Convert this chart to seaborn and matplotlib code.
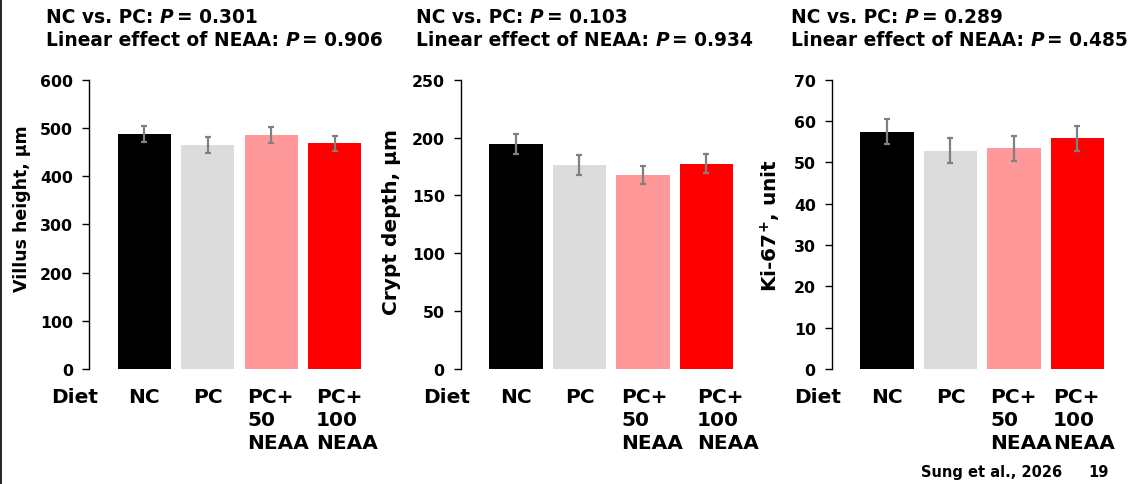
import matplotlib
matplotlib.use("Agg")
import matplotlib.pyplot as plt
from matplotlib.lines import Line2D
import seaborn as sns
import pandas as pd
import numpy as np

# ---------------- data ----------------
diets = ["NC", "PC", "PC+50 NEAA", "PC+100 NEAA"]
tick_labels = ["NC", "PC", "PC+\n50\nNEAA", "PC+\n100\nNEAA"]
bar_colors = ["#000000", "#DCDCDC", "#FF9999", "#FF0000"]

villus = [487, 465, 485, 468]
villus_se = [17, 16.5, 16.5, 16]
crypt = [194.5, 176.5, 167.5, 177.5]
crypt_se = [8.5, 8.5, 8, 8]
ki67 = [57.4, 52.8, 53.4, 55.8]
ki67_se = [3, 3, 3, 3]

p_nc_pc = ["0.301", "0.103", "0.289"]
p_linear = ["0.906", "0.934", "0.485"]
ylabels = ["Villus height, µm", "Crypt depth, µm", r"Ki-67$^{\mathbf{+}}$, unit"]
ymax = [600, 250, 70]
ystep = [100, 50, 10]

# ---------------- style ----------------
sns.set_style("white")
plt.rcParams["font.family"] = ["DejaVu Sans"]
plt.rcParams["font.weight"] = "bold"
plt.rcParams["mathtext.fontset"] = "dejavusans"
plt.rcParams["text.color"] = "black"
plt.rcParams["axes.labelcolor"] = "black"
plt.rcParams["xtick.color"] = "black"
plt.rcParams["ytick.color"] = "black"

W, H = 1136, 485
fig = plt.figure(figsize=(W / 100, H / 100), dpi=100)

axes_left_px = [89, 460.7, 831.7]
title_left_px = [46, 416, 791]
ylabel_x = [-0.205, -0.212, -0.172]
ylabel_y = [0.556, 0.512, 0.5]
ylabel_size = [12.5, 14.5, 14.5]
# horizontal nudge (px) of the multi-line labels from the bar's left edge
label_nudge_px = [[3, 8], [5, 17], [3, 2]]
top_px, bottom_px = 80.7, 370
xlim = (-0.87, 3.6)
pitch_px = 63.5
width_px = (xlim[1] - xlim[0]) * pitch_px

series = [(villus, villus_se), (crypt, crypt_se), (ki67, ki67_se)]


def rich_line(ax, x_px, y_px, pieces, size=13.4):
    first = ax.annotate(pieces[0][0], xy=(x_px / W, 1 - y_px / H),
                        xycoords="figure fraction", va="baseline", ha="left",
                        fontsize=size, fontweight="bold", fontstyle=pieces[0][1],
                        color="black", annotation_clip=False)
    prev = first
    for text, style, gap in pieces[1:]:
        prev = ax.annotate(text, xy=(1, 0), xycoords=prev, xytext=(gap, 0),
                           textcoords="offset points", va="bottom", ha="left",
                           fontsize=size, fontweight="bold", fontstyle=style,
                           color="black", annotation_clip=False)


for k, (vals, se) in enumerate(series):
    ax = fig.add_axes([axes_left_px[k] / W, 1 - bottom_px / H,
                       width_px / W, (bottom_px - top_px) / H])
    df = pd.DataFrame({"Diet": diets, "value": vals})
    sns.barplot(data=df, x="Diet", y="value", hue="Diet", order=diets,
                hue_order=diets, palette=bar_colors, dodge=False, width=0.84,
                saturation=1, legend=False, linewidth=0, errorbar=None, ax=ax)
    ax.errorbar(np.arange(len(diets)), vals, yerr=se, fmt="none",
                ecolor="#808080", elinewidth=1.6, capsize=2.5, capthick=1.6,
                zorder=3)
    ax.set_xlim(*xlim)
    ax.set_ylim(0, ymax[k])
    ax.set_yticks(np.arange(0, ymax[k] + 1, ystep[k]))
    for s in ["top", "right", "bottom"]:
        ax.spines[s].set_visible(False)
    ax.spines["left"].set_color("black")
    ax.spines["left"].set_linewidth(1)
    ax.tick_params(axis="y", direction="out", left=True, length=5, width=1,
                   color="black", labelcolor="black", pad=6.5, labelsize=11.3)
    ax.set_xticks([])
    ax.set_xlabel("")
    ax.set_ylabel(ylabels[k], fontsize=ylabel_size[k], fontweight="bold",
                  color="black")
    ax.yaxis.set_label_coords(ylabel_x[k], ylabel_y[k])

    # category labels under bars
    m = 0
    for i, lab in enumerate(tick_labels):
        if "\n" in lab:
            xpos, ha = i - 0.42, "left"
            dx = label_nudge_px[k][m] * 0.72
            m += 1
        else:
            xpos, ha, dx = i, "center", 0
        ax.annotate(lab, xy=(xpos, 0), xycoords=ax.get_xaxis_transform(),
                    xytext=(dx, -13), textcoords="offset points", ha=ha,
                    va="top", multialignment="left", linespacing=1.25,
                    fontsize=14.5, fontweight="bold", color="black",
                    annotation_clip=False)
    ax.annotate("Diet", xy=(0, 0), xycoords="axes fraction", xytext=(-10, -13),
                textcoords="offset points", ha="center", va="top",
                fontsize=14.5, fontweight="bold", color="black",
                annotation_clip=False)

    # P-value header
    rich_line(ax, title_left_px[k], 23,
              [("NC vs. PC:", "normal"), ("P", "italic", 4.5),
               ("= " + p_nc_pc[k], "normal", 2.5)])
    rich_line(ax, title_left_px[k], 46,
              [("Linear effect of NEAA:", "normal"), ("P", "italic", 4.5),
               ("= " + p_linear[k], "normal", 2.5)])

fig.text(921 / W, 1 - 477 / H, "Sung et al., 2026", fontsize=10.5,
         fontweight="bold", va="baseline", ha="left", color="black")
fig.text(1088 / W, 1 - 477 / H, "19", fontsize=10.5, fontweight="bold",
         va="baseline", ha="left", color="black")
fig.add_artist(Line2D([0.8 / W, 0.8 / W], [0, 1], color="black", lw=1.2))

fig.savefig("out.png", dpi=100)
